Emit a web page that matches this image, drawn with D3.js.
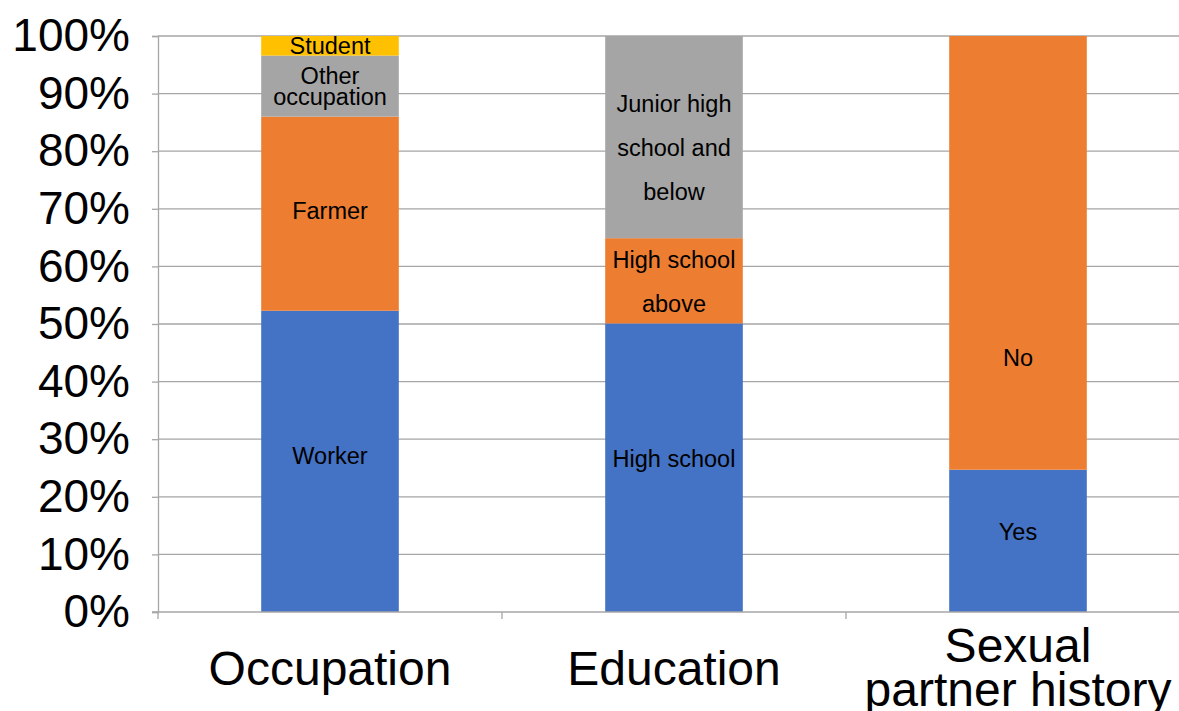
<!DOCTYPE html>
<html><head><meta charset="utf-8">
<script src="https://cdn.jsdelivr.net/npm/d3@7"></script>
<style>
html,body{margin:0;padding:0;background:#fff;}
svg{display:block;}
text{font-family:"Liberation Sans",Arial,sans-serif;fill:#000;}
</style></head>
<body>
<svg id="chart" width="1179" height="711"></svg>
<script>
// ---- data ----
const categories = ["Occupation", "Education", "Sexual partner history"];
const occupationLabels = ["Worker", "Farmer", "Other\noccupation", "Student"];
const occupationValues = [52.3, 33.7, 10.6, 3.4];
const educationLabels = ["High school", "High school\nabove", "Junior high\nschool and\nbelow"];
const educationValues = [50.1, 14.8, 35.1];
const partnerLabels = ["Yes", "No"];
const partnerValues = [24.7, 75.3];
// label anchor value (percent) for each segment label
const occupationLabelAt = [27.1, 69.6, 91.2, 98.3];
const educationLabelAt = [26.6, 57.3, 80.6];
const partnerLabelAt = [13.9, 44.1];
const yTickValues = [0, 10, 20, 30, 40, 50, 60, 70, 80, 90, 100];
const seriesColors = ["#4472C4", "#ED7D31", "#A5A5A5", "#FFC000"];

const groups = [
  {cat: categories[0], labels: occupationLabels, values: occupationValues, at: occupationLabelAt},
  {cat: categories[1], labels: educationLabels, values: educationValues, at: educationLabelAt},
  {cat: categories[2], labels: partnerLabels, values: partnerValues, at: partnerLabelAt}
];

const svg = d3.select("#chart");
const mLeft = 158, mTop = 36, mBottom = 612, step = 344;
const x = d3.scaleBand().domain(categories).range([mLeft, mLeft + step * categories.length]).padding(0);
const y = d3.scaleLinear().domain([0, 100]).range([mBottom, mTop]);
const barW = x.bandwidth() * 0.4;
const gridColor = "#a6a6a6";

// gridlines
svg.append("g").selectAll("line").data(yTickValues.filter(v => v > 0)).join("line")
  .attr("x1", mLeft).attr("x2", 1179)
  .attr("y1", d => y(d)).attr("y2", d => y(d))
  .attr("stroke", gridColor).attr("stroke-width", 1.3);

// y axis
const yAxis = svg.append("g").attr("transform", `translate(${mLeft},0)`)
  .call(d3.axisLeft(y).tickValues(yTickValues).tickFormat(d => d + "%").tickSize(6).tickPadding(22));
yAxis.select(".domain").attr("stroke", gridColor).attr("stroke-width", 1.3);
yAxis.selectAll(".tick line").attr("stroke", gridColor).attr("stroke-width", 1.3);
yAxis.selectAll(".tick text").attr("font-size", 46).attr("font-family", '"Liberation Sans",Arial,sans-serif').attr("fill", "#000");

// bars
groups.forEach((g, gi) => {
  let cum = 0;
  const cx = x(g.cat) + x.bandwidth() / 2;
  const segs = g.values.map((v, i) => { const s = {y0: cum, y1: cum + v, i}; cum += v; return s; });
  svg.append("g").selectAll("rect").data(segs).join("rect")
    .attr("x", cx - barW / 2).attr("width", barW)
    .attr("y", d => y(d.y1)).attr("height", d => y(d.y0) - y(d.y1))
    .attr("fill", d => seriesColors[d.i]);
  // labels
  g.labels.forEach((lab, i) => {
    const lines = lab.split("\n");
    const lh = (lab.indexOf("occupation") >= 0) ? 21 : 44;
    const cy = y(g.at[i]);
    const t = svg.append("text").attr("text-anchor", "middle").attr("font-size", 23.5);
    lines.forEach((ln, k) => {
      t.append("tspan").attr("x", cx)
        .attr("y", cy + (k - (lines.length - 1) / 2) * lh)
        .attr("dy", "0.35em").text(ln);
    });
  });
});

// x axis
svg.append("line").attr("x1", mLeft - 6).attr("x2", 1179).attr("y1", mBottom).attr("y2", mBottom)
  .attr("stroke", gridColor).attr("stroke-width", 1.3);
svg.append("g").selectAll("line").data(categories).join("line")
  .attr("x1", d => x(d)).attr("x2", d => x(d))
  .attr("y1", mBottom).attr("y2", mBottom + 7)
  .attr("stroke", gridColor).attr("stroke-width", 1.3);

// category labels
const catLines = {"Sexual partner history": ["Sexual", "partner history"]};
categories.forEach(c => {
  const lines = catLines[c] || [c];
  const cx = x(c) + x.bandwidth() / 2;
  const t = svg.append("text").attr("text-anchor", "middle").attr("font-size", 48);
  lines.forEach((ln, k) => {
    t.append("tspan").attr("x", cx)
      .attr("y", lines.length === 1 ? 685 : 662 + k * 44).text(ln);
  });
});
</script>
</body></html>
